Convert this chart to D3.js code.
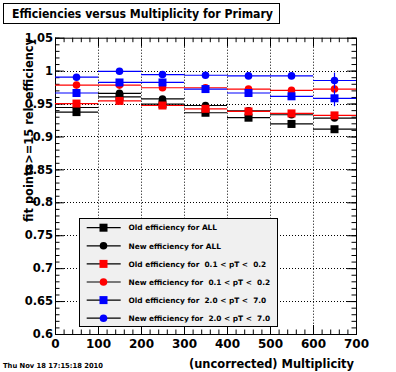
<!DOCTYPE html>
<html>
<head>
<meta charset="utf-8">
<script src="https://cdn.jsdelivr.net/npm/d3@7"></script>
<style>
  body { margin: 0; background: #fff; }
  text { font-family: "DejaVu Sans", "Liberation Sans", Arial, sans-serif; font-weight: bold; white-space: pre; }
</style>
</head>
<body>
<div id="chart-area"></div>
<script>
// DATA
var mult = [50, 150, 250, 350, 450, 550, 650];
var binHalf = 50;

var oldAll  = [0.937, 0.960, 0.949, 0.936, 0.9285, 0.919, 0.911];
var newAll  = [0.944, 0.9655, 0.957, 0.947, 0.939, 0.933, 0.928];
var oldLow  = [0.950, 0.954, 0.947, 0.942, 0.938, 0.935, 0.932];
var newLow  = [0.978, 0.978, 0.974, 0.974, 0.972, 0.970, 0.972];
var oldHigh = [0.966, 0.982, 0.982, 0.972, 0.966, 0.961, 0.958];
var newHigh = [0.990, 0.999, 0.994, 0.993, 0.992, 0.992, 0.985];

var errAll  = [0.002, 0.002, 0.002, 0.002, 0.002, 0.003, 0.004];
var errLow  = [0.002, 0.003, 0.002, 0.003, 0.003, 0.003, 0.005];
var errHigh = [0.002, 0.002, 0.002, 0.002, 0.002, 0.003, 0.012];

var legendLabels = [
    "Old efficiency for ALL",
    "New efficiency for ALL",
    "Old efficiency for  0.1 < pT <  0.2",
    "New efficiency for  0.1 < pT <  0.2",
    "Old efficiency for  2.0 < pT <  7.0",
    "New efficiency for  2.0 < pT <  7.0"
];

var series = [
    { values: oldAll,  err: errAll,  color: "#000000", marker: "square" },
    { values: newAll,  err: errAll,  color: "#000000", marker: "circle" },
    { values: oldLow,  err: errLow,  color: "#ff0000", marker: "square" },
    { values: newLow,  err: errLow,  color: "#ff0000", marker: "circle" },
    { values: oldHigh, err: errHigh, color: "#0000ff", marker: "square" },
    { values: newHigh, err: errHigh, color: "#0000ff", marker: "circle" }
];

var W = 396, H = 372;
var pLeft = 55, pRight = 356, pTop = 37.7, pBottom = 334;

var svg = d3.select("#chart-area")
    .append("svg")
    .attr("width", W)
    .attr("height", H);

var x = d3.scaleLinear().domain([0, 700]).range([pLeft, pRight]);
var y = d3.scaleLinear().domain([0.6, 1.05]).range([pBottom, pTop]);

var xMajor = d3.range(0, 701, 100);
var xMinor = d3.range(0, 701, 20).filter(function (d) { return d % 100 !== 0; });
var yMajor = y.ticks(10);
var yMinor = y.ticks(45);

// GRID (dotted)
svg.append("g").selectAll("line")
    .data(xMajor.filter(function (d) { return d > 0 && d < 700; }))
    .enter().append("line")
    .attr("x1", function (d) { return Math.round(x(d)) + 0.5; })
    .attr("x2", function (d) { return Math.round(x(d)) + 0.5; })
    .attr("y1", pTop).attr("y2", pBottom)
    .attr("stroke", "#000").attr("stroke-dasharray", "1,2");

svg.append("g").selectAll("line")
    .data(yMajor.filter(function (d) { return d > 0.61 && d < 1.04; }))
    .enter().append("line")
    .attr("y1", function (d) { return Math.round(y(d)) + 0.5; })
    .attr("y2", function (d) { return Math.round(y(d)) + 0.5; })
    .attr("x1", pLeft).attr("x2", pRight)
    .attr("stroke", "#000").attr("stroke-dasharray", "1,2");

// AXES
function fmt(d) { return String(+d.toFixed(2)); }

function axisGroup(axis, tx, ty, size) {
    var g = svg.append("g").attr("transform", "translate(" + tx + "," + ty + ")").call(axis);
    g.select(".domain").remove();
    g.selectAll("text").attr("font-size", size || "12px").attr("font-family", null).attr("fill", "#000");
    g.selectAll("line").attr("stroke", "#000");
    return g;
}

axisGroup(d3.axisBottom(x).tickValues(xMajor).tickSize(-9).tickPadding(5).tickFormat(fmt), 0, pBottom, "12px");
axisGroup(d3.axisBottom(x).tickValues(xMinor).tickSize(-4.5).tickFormat(""), 0, pBottom);
axisGroup(d3.axisTop(x).tickValues(xMajor).tickSize(-9).tickFormat(""), 0, pTop);
axisGroup(d3.axisTop(x).tickValues(xMinor).tickSize(-4.5).tickFormat(""), 0, pTop);

axisGroup(d3.axisLeft(y).tickValues(yMajor).tickSize(-9).tickPadding(2).tickFormat(fmt), pLeft, 0, "11.5px");
axisGroup(d3.axisLeft(y).tickValues(yMinor).tickSize(-4.5).tickFormat(""), pLeft, 0);
axisGroup(d3.axisRight(y).tickValues(yMajor).tickSize(-9).tickFormat(""), pRight, 0);
axisGroup(d3.axisRight(y).tickValues(yMinor).tickSize(-4.5).tickFormat(""), pRight, 0);

// FRAME
svg.append("rect")
    .attr("x", pLeft + 0.5).attr("y", pTop + 0.5)
    .attr("width", pRight - pLeft).attr("height", pBottom - pTop)
    .attr("fill", "none").attr("stroke", "#000");

// LEGEND BOX (covers the grid beneath it)
var leg = { x: 79, y: 218, w: 198, h: 108 };
svg.append("rect")
    .attr("x", leg.x + 0.5).attr("y", leg.y + 0.5)
    .attr("width", leg.w).attr("height", leg.h)
    .attr("fill", "#f0f0f0").attr("stroke", "#000");

// DATA MARKS
function drawMarker(sel, type, color) {
    if (type === "square") {
        sel.append("rect")
            .attr("x", -4).attr("y", -4).attr("width", 8).attr("height", 8)
            .attr("fill", color);
    } else {
        sel.append("circle").attr("r", 3.8).attr("fill", color);
    }
}

series.forEach(function (s) {
    var g = svg.append("g");
    var pts = g.selectAll("g.pt")
        .data(mult.map(function (m, i) { return { m: m, v: s.values[i], e: s.err[i] }; }))
        .enter().append("g").attr("class", "pt");

    pts.append("line")
        .attr("x1", function (d) { return x(d.m - binHalf); })
        .attr("x2", function (d) { return x(d.m + binHalf); })
        .attr("y1", function (d) { return y(d.v); })
        .attr("y2", function (d) { return y(d.v); })
        .attr("stroke", s.color).attr("stroke-width", 1.2);

    pts.append("line")
        .attr("x1", function (d) { return x(d.m); })
        .attr("x2", function (d) { return x(d.m); })
        .attr("y1", function (d) { return y(d.v - d.e); })
        .attr("y2", function (d) { return y(d.v + d.e); })
        .attr("stroke", s.color).attr("stroke-width", 1.2);

    pts.each(function (d) {
        var m = d3.select(this).append("g")
            .attr("transform", "translate(" + x(d.m) + "," + y(d.v) + ")");
        drawMarker(m, s.marker, s.color);
    });
});

// LEGEND ENTRIES
var rowY0 = 227.7, rowStep = 18.1;
series.forEach(function (s, i) {
    var cy = rowY0 + i * rowStep;
    svg.append("line")
        .attr("x1", 86.7).attr("x2", 120.7)
        .attr("y1", cy).attr("y2", cy)
        .attr("stroke", "#000").attr("stroke-width", 1.2);
    var m = svg.append("g").attr("transform", "translate(103.5," + cy + ")");
    drawMarker(m, s.marker, s.color);
    svg.append("text")
        .attr("x", 128.5).attr("y", cy + 2.7)
        .attr("font-size", "7.4px")
        .text(legendLabels[i]);
});

// TITLE BOX
svg.append("rect")
    .attr("x", 3.5).attr("y", 3.5).attr("width", 276).attr("height", 20)
    .attr("fill", "#fff").attr("stroke", "#000");
svg.append("text")
    .attr("x", 12).attr("y", 18)
    .attr("font-size", "12.5px")
    .attr("textLength", 261).attr("lengthAdjust", "spacingAndGlyphs")
    .text("Efficiencies versus Multiplicity for Primary");

// X LABEL
svg.append("text")
    .attr("x", 354).attr("y", 368)
    .attr("text-anchor", "end")
    .attr("font-size", "12px")
    .attr("textLength", 165).attr("lengthAdjust", "spacingAndGlyphs")
    .text("(uncorrected) Multiplicity");

// Y LABEL
svg.append("text")
    .attr("transform", "translate(33,38) rotate(-90)")
    .attr("text-anchor", "end")
    .attr("font-size", "12px")
    .attr("textLength", 184).attr("lengthAdjust", "spacingAndGlyphs")
    .text("fit points>=15 rel. efficiency");

// DATE STAMP
svg.append("text")
    .attr("x", 3).attr("y", 368)
    .attr("font-size", "7px")
    .attr("textLength", 100).attr("lengthAdjust", "spacingAndGlyphs")
    .text("Thu Nov 18 17:15:18 2010");
</script>
</body>
</html>
